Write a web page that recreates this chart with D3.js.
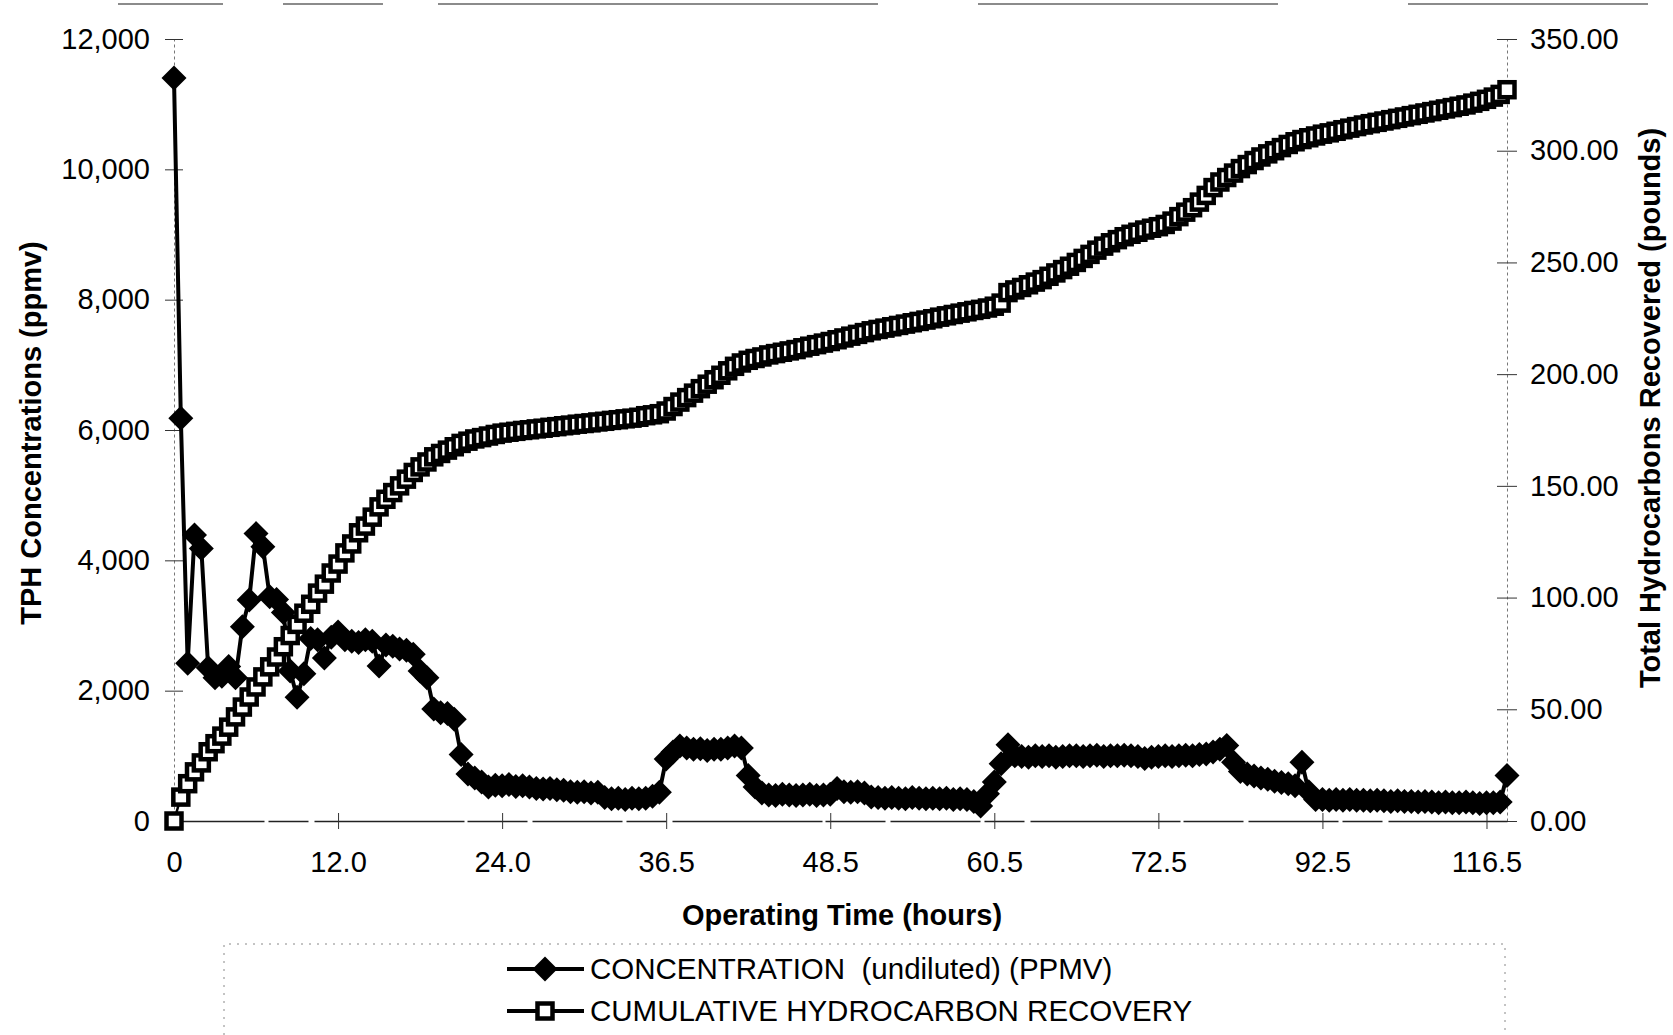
<!DOCTYPE html>
<meta charset="utf-8">
<style>
    body { margin: 0; background: #fff; }
    svg text { font-family: "Liberation Sans", Arial, sans-serif; fill: #000; }
    .axis text { font-size: 29px; }
    .title { font-size: 29px; font-weight: bold; }
    .legend-text { font-size: 29.5px; white-space: pre; }
</style>
<body>

<script src="https://cdn.jsdelivr.net/npm/d3@7"></script>
<script>
    // TPH concentration (ppmv), one value per sample
    var concentration = [
        11400, 6180, 2420, 4390, 4180, 2350, 2200, 2220, 2370, 2200,
        2980, 3390, 4410, 4210, 3440, 3400, 3200, 2300, 1900, 2260,
        2800, 2780, 2500, 2820, 2900, 2780, 2760, 2740, 2780, 2760,
        2380, 2700, 2680, 2640, 2620, 2560, 2300, 2200, 1720, 1660,
        1650, 1560, 1020, 720, 660, 600, 520, 550, 540, 560,
        530, 540, 520, 500, 490, 500, 480, 470, 450, 440,
        450, 430, 440, 360, 340, 350, 330, 350, 340, 350,
        380, 440, 950, 1060, 1150, 1120, 1100, 1110, 1080, 1100,
        1100, 1120, 1150, 1120, 700, 520, 430, 400, 390, 410,
        400, 390, 400, 410, 390, 400, 410, 500, 450, 440,
        450, 430, 370, 360, 350, 360, 350, 340, 360, 350,
        340, 350, 340, 350, 330, 340, 330, 300, 230, 420,
        600, 880, 1170, 1000, 990, 980, 1000, 990, 1000, 980,
        990, 1000, 1000, 990, 1000, 1010, 990, 1000, 1000, 1010,
        1000, 990, 960, 980, 990, 1000, 990, 1000, 1010, 1000,
        1020, 1030, 1060, 1100, 1160, 900, 760, 720, 690, 660,
        640, 610, 590, 570, 540, 900, 450, 330, 330, 320,
        330, 320, 330, 320, 320, 310, 320, 310, 300, 310,
        300, 300, 290, 300, 290, 280, 290, 280, 280, 290,
        280, 270, 280, 280, 290, 700
    ];

    // cumulative hydrocarbon recovery (pounds)
    var recovery = [
        0, 10.7, 16.7, 22, 26, 31, 34.6, 38, 42, 46.6,
        51, 55.5, 60, 64.5, 69, 73.4, 78, 83, 88, 93,
        97, 102, 106, 111, 115, 120, 124, 129, 132, 136,
        140.6, 144, 147, 150, 153, 156, 158.5, 160.7, 163, 164.5,
        166, 167.5, 169, 170, 171, 171.6, 172.3, 173, 173.6, 174,
        174.4, 174.8, 175.1, 175.5, 175.8, 176.2, 176.5, 176.9, 177.2, 177.6,
        177.9, 178.2, 178.6, 178.9, 179.3, 179.6, 180, 180.3, 180.7, 181.4,
        181.8, 182.3, 183.5, 185.5, 187.5, 189.5, 191.5, 193.5, 195.5, 197.5,
        199.5, 201.5, 203.5, 205, 206.2, 207, 207.7, 208.6, 209.2, 209.8,
        210.4, 211, 211.8, 212.5, 213.2, 213.9, 214.6, 215.4, 216.2, 217,
        217.8, 218.6, 219.4, 220, 220.6, 221.2, 221.8, 222.4, 223, 223.6,
        224.2, 224.8, 225.5, 226.1, 226.7, 227.3, 227.9, 228.5, 229, 229.6,
        230.4, 231.8, 236.5, 237.7, 238.8, 240, 241.2, 242.3, 243.8, 245.3,
        246.8, 248.3, 250, 251.8, 253.6, 255.5, 257.3, 258.8, 260.2, 261.5,
        262.6, 263.5, 264.5, 265.3, 266, 267, 268.5, 270.5, 272.5, 274.5,
        277, 280, 283.5, 286, 288, 290, 292, 293.8, 295.6, 297.2,
        298.6, 300, 301.4, 302.8, 304, 305, 305.8, 306.6, 307.4, 308,
        308.7, 309.4, 310.1, 310.8, 311.5, 312.1, 312.7, 313.3, 313.9, 314.5,
        315.1, 315.7, 316.3, 316.9, 317.5, 318.1, 318.7, 319.3, 319.9, 320.5,
        321.3, 322.1, 323, 324, 325.2, 327.3
    ];

    // category axis labels, one every 24 samples
    var xTickLabels = ["0", "12.0", "24.0", "36.5", "48.5", "60.5", "72.5", "92.5", "116.5"];
    var xTickEvery = 24;
    var leftTicks = [0, 2000, 4000, 6000, 8000, 10000, 12000];
    var rightTicks = [0, 50, 100, 150, 200, 250, 300, 350];

    var seriesNames = ["CONCENTRATION  (undiluted) (PPMV)", "CUMULATIVE HYDROCARBON RECOVERY"];

    var width = 1673, height = 1035;
    var plot = {left: 174, right: 1507, top: 39, bottom: 821};

    var svg = d3.select("body").append("svg")
        .attr("width", width)
        .attr("height", height);

    svg.append("rect").attr("width", width).attr("height", height).attr("fill", "#fff");

    var idx = d3.range(concentration.length);

    var x = d3.scalePoint()
        .domain(idx)
        .range([plot.left, plot.right]);

    var yLeft = d3.scaleLinear().domain([0, 12000]).range([plot.bottom, plot.top]);
    var yRight = d3.scaleLinear().domain([0, 350]).range([plot.bottom, plot.top]);

    // scan border remnant along the top
    svg.append("line")
        .attr("x1", 118).attr("x2", 1673).attr("y1", 4).attr("y2", 4)
        .attr("stroke", "#666").attr("stroke-width", 1.5)
        .attr("stroke-dasharray", "105,60,100,55,440,100,300,130,240");

    // axes
    var gLeft = svg.append("g")
        .attr("class", "axis")
        .attr("transform", "translate(" + plot.left + ",0)")
        .call(d3.axisLeft(yLeft).tickValues(leftTicks).tickFormat(d3.format(","))
            .tickSize(9).tickSizeOuter(0).tickPadding(15));

    var gRight = svg.append("g")
        .attr("class", "axis")
        .attr("transform", "translate(" + plot.right + ",0)")
        .call(d3.axisRight(yRight).tickValues(rightTicks).tickFormat(d3.format(".2f"))
            .tickSize(10).tickSizeOuter(0).tickPadding(13));

    var gBottom = svg.append("g")
        .attr("class", "axis")
        .attr("transform", "translate(0," + plot.bottom + ")")
        .call(d3.axisBottom(x).tickValues(idx.filter(i => i % xTickEvery === 0))
            .tickFormat(i => xTickLabels[i / xTickEvery])
            .tickSize(8).tickSizeOuter(0).tickPadding(22));

    [gLeft, gRight, gBottom].forEach(g => {
        g.attr("font-family", null).attr("font-size", null);
        g.selectAll("text").attr("fill", "#000");
    });

    // ticks cross the axis line
    gLeft.selectAll(".tick line").attr("x1", 9).attr("stroke", "#333");
    gRight.selectAll(".tick line").attr("x1", -10).attr("stroke", "#333");
    gBottom.selectAll(".tick line").attr("y1", -8).attr("stroke", "#333");

    gLeft.select(".domain").attr("stroke", "#777").attr("stroke-dasharray", "3,3");
    gRight.select(".domain").attr("stroke", "#777").attr("stroke-dasharray", "3,3");
    gBottom.select(".domain").attr("stroke", "#222").attr("stroke-width", 1.3)
        .attr("stroke-dasharray", "90,4,40,6,150,3,60,5");

    // concentration series
    var concLine = d3.line()
        .x((d, i) => x(i))
        .y(d => yLeft(d));

    svg.append("path")
        .datum(concentration)
        .attr("fill", "none")
        .attr("stroke", "#000")
        .attr("stroke-width", 4)
        .attr("stroke-linejoin", "round")
        .attr("d", concLine);

    var diamond = "M0,-12.5L12.5,0L0,12.5L-12.5,0Z";

    svg.append("g")
        .selectAll("path")
        .data(concentration)
        .join("path")
        .attr("transform", (d, i) => "translate(" + x(i) + "," + yLeft(d) + ")")
        .attr("d", diamond)
        .attr("fill", "#000");

    // cumulative recovery series (secondary axis, drawn on top)
    var recLine = d3.line()
        .x((d, i) => x(i))
        .y(d => yRight(d));

    svg.append("path")
        .datum(recovery)
        .attr("fill", "none")
        .attr("stroke", "#000")
        .attr("stroke-width", 2.5)
        .attr("d", recLine);

    svg.append("g")
        .selectAll("rect")
        .data(recovery)
        .join("rect")
        .attr("x", (d, i) => x(i) - 7.5)
        .attr("y", d => yRight(d) - 7.5)
        .attr("width", 15)
        .attr("height", 15)
        .attr("fill", "#fff")
        .attr("stroke", "#000")
        .attr("stroke-width", 4.5);

    // axis titles
    svg.append("text")
        .attr("class", "title")
        .attr("x", 842).attr("y", 925)
        .attr("text-anchor", "middle")
        .text("Operating Time (hours)");

    svg.append("text")
        .attr("class", "title")
        .attr("transform", "translate(41,433) rotate(-90)")
        .attr("text-anchor", "middle")
        .text("TPH Concentrations (ppmv)");

    svg.append("text")
        .attr("class", "title")
        .attr("transform", "translate(1660,408) rotate(-90)")
        .attr("text-anchor", "middle")
        .text("Total Hydrocarbons Recovered (pounds)");

    // legend
    var legend = svg.append("g");

    legend.append("path")
        .attr("d", "M224,1035V944H1505V1035")
        .attr("fill", "none")
        .attr("stroke", "#888")
        .attr("stroke-width", 1)
        .attr("stroke-dasharray", "2,6");

    seriesNames.forEach((name, i) => {
        var ly = 969 + i * 42;
        var row = legend.append("g").attr("transform", "translate(0," + ly + ")");
        row.append("line")
            .attr("x1", 507).attr("x2", 584)
            .attr("stroke", "#000").attr("stroke-width", 4);
        if (i === 0) {
            row.append("path").attr("transform", "translate(545,0)").attr("d", diamond).attr("fill", "#000");
        } else {
            row.append("rect").attr("x", 537.5).attr("y", -7.5).attr("width", 15).attr("height", 15)
                .attr("fill", "#fff").attr("stroke", "#000").attr("stroke-width", 4.5);
        }
        row.append("text")
            .attr("class", "legend-text")
            .attr("x", 590).attr("y", 10)
            .text(name);
    });
</script>

</body>
</html>
